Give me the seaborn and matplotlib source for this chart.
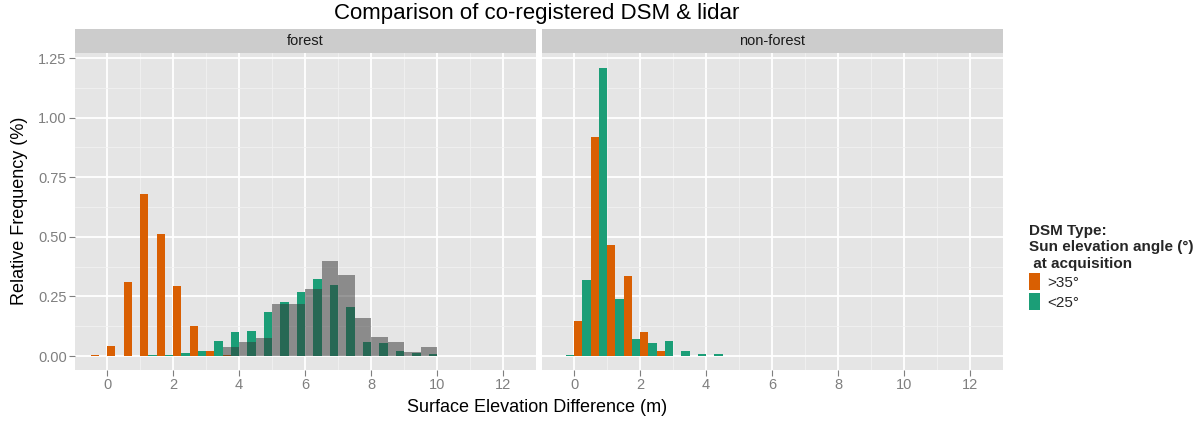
import numpy as np
import pandas as pd
import matplotlib
matplotlib.use("Agg")
import matplotlib.pyplot as plt
from matplotlib.patches import Patch
from matplotlib.ticker import MultipleLocator
import seaborn as sns

# bin left edges (0.5 m bins) and relative frequency (%)
forest_edges = [-0.5, 0.0, 0.5, 1.0, 1.5, 2.0, 2.5, 3.0, 3.5, 4.0, 4.5,
                5.0, 5.5, 6.0, 6.5, 7.0, 7.5, 8.0, 8.5, 9.0, 9.5, 10.0]
forest_high_sun = [0.005, 0.042, 0.31, 0.678, 0.512, 0.295, 0.124, 0.022, 0.003, 0.002, 0.0,
                   0.0, 0.0, 0.0, 0.0, 0.0, 0.0, 0.0, 0.0, 0.0, 0.0, 0.0]
forest_low_sun = [0.0, 0.0, 0.0, 0.003, 0.006, 0.011, 0.022, 0.062, 0.102, 0.106, 0.186,
                  0.225, 0.267, 0.324, 0.298, 0.204, 0.059, 0.055, 0.022, 0.011, 0.008, 0.002]
forest_lidar = [0.0, 0.0, 0.0, 0.0, 0.0, 0.0, 0.0, 0.0, 0.039, 0.059, 0.077,
                0.218, 0.218, 0.280, 0.397, 0.338, 0.158, 0.078, 0.059, 0.017, 0.039, 0.0]

nonforest_edges = [-0.5, 0.0, 0.5, 1.0, 1.5, 2.0, 2.5, 3.0, 3.5, 4.0]
nonforest_high_sun = [0.0, 0.148, 0.920, 0.464, 0.337, 0.099, 0.020, 0.001, 0.0, 0.0]
nonforest_low_sun = [0.006, 0.319, 1.208, 0.238, 0.071, 0.055, 0.062, 0.020, 0.007, 0.007]

types = [">35°", "<25°"]
palette = {">35°": "#D95F02", "<25°": "#1B9E77"}
bin_width = 0.5

rows = []
for cover, edges, hi, lo in [("forest", forest_edges, forest_high_sun, forest_low_sun),
                             ("non-forest", nonforest_edges, nonforest_high_sun, nonforest_low_sun)]:
    for e, h, l in zip(edges, hi, lo):
        rows.append({"cover": cover, "mid": e + bin_width / 2, "type": ">35°", "freq": h})
        rows.append({"cover": cover, "mid": e + bin_width / 2, "type": "<25°", "freq": l})
df = pd.DataFrame(rows)
lidar_df = pd.DataFrame({"mid": np.array(forest_edges) + bin_width / 2, "freq": forest_lidar})

sns.set_theme(style="white")
plt.rcParams["font.family"] = ["Liberation Sans", "DejaVu Sans"]

fig = plt.figure(figsize=(12.02, 4.21), dpi=100)
W, H = 1202, 421
panels = [("forest", 75), ("non-forest", 542)]

for i, (cover, x0) in enumerate(panels):
    ax = fig.add_axes([x0 / W, (H - 370) / H, 461 / W, 317 / H])
    ax.set_facecolor("#E5E5E5")
    sub = df[df["cover"] == cover]
    sns.histplot(data=sub, x="mid", weights="freq", hue="type", hue_order=types,
                 palette=palette, binwidth=bin_width, binrange=(-0.5, 10.5),
                 multiple="dodge", shrink=1,
                 alpha=1, linewidth=0, legend=False, ax=ax)
    if cover == "forest":
        sns.histplot(data=lidar_df, x="mid", weights="freq",
                     binwidth=bin_width, binrange=(-0.5, 10.5),
                     color="#333333", alpha=0.5, linewidth=0, ax=ax)
    ax.set_xlim(-0.97, 13.0)
    ax.set_ylim(-0.0587, 1.271)
    ax.xaxis.set_major_locator(MultipleLocator(2))
    ax.xaxis.set_minor_locator(MultipleLocator(1))
    ax.yaxis.set_major_locator(MultipleLocator(0.25))
    ax.yaxis.set_minor_locator(MultipleLocator(0.125))
    ax.grid(which="major", color="white", linewidth=1.3)
    ax.grid(which="minor", color="#F2F2F2", linewidth=0.6)
    ax.set_axisbelow(True)
    for s in ax.spines.values():
        s.set_visible(False)
    ax.tick_params(axis="both", which="major", length=4, width=0.8, color="#7F7F7F",
                   labelcolor="#7F7F7F", labelsize=10.5, pad=2)
    ax.tick_params(axis="both", which="minor", length=0)
    ax.tick_params(axis="x", bottom=True)
    ax.tick_params(axis="y", left=True)
    ax.set_xlabel("")
    ax.set_ylabel("")
    ax.yaxis.set_major_formatter(matplotlib.ticker.FormatStrFormatter("%.2f"))
    if i == 1:
        ax.tick_params(axis="y", left=False, labelleft=False)

    strip = fig.add_axes([x0 / W, (H - 53) / H, 461 / W, 24 / H])
    strip.set_facecolor("#CCCCCC")
    strip.set_xticks([])
    strip.set_yticks([])
    for s in strip.spines.values():
        s.set_visible(False)
    strip.text(0.5, 0.5, cover, ha="center", va="center", fontsize=10.5,
               color="#1A1A1A", transform=strip.transAxes)

fig.text(537 / W, 1 - 14 / H, "Comparison of co-registered DSM & lidar",
         ha="center", va="center", fontsize=16, color="black")
fig.text(537 / W, 1 - 408 / H, "Surface Elevation Difference (m)",
         ha="center", va="center", fontsize=13, color="black")
fig.text(20 / W, 1 - 211 / H, "Relative Frequency (%)", rotation=90,
         ha="center", va="center", fontsize=13, color="black")

handles = [Patch(facecolor=palette[t], edgecolor="none", label=t) for t in types]
leg = fig.legend(handles=handles, title="DSM Type:\nSun elevation angle (°)\n at acquisition",
                 loc="upper left", bbox_to_anchor=(1023 / W, 1 - 218 / H),
                 frameon=False, alignment="left", fontsize=11,
                 handlelength=0.7, handleheight=1.4, handletextpad=0.5,
                 labelspacing=0.15, borderaxespad=0)
plt.setp(leg.get_title(), fontweight="bold", fontsize=11)

fig.savefig("out.png", dpi=100)
